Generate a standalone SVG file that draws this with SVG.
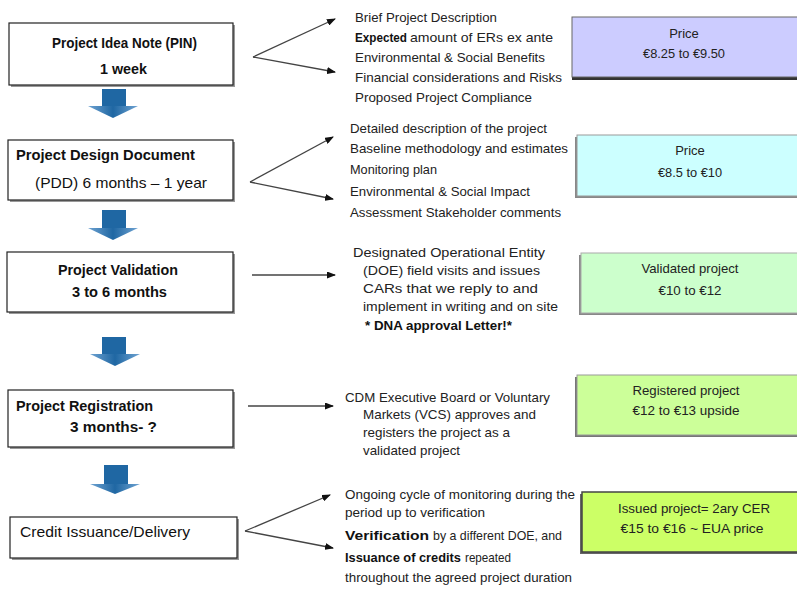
<svg xmlns="http://www.w3.org/2000/svg" width="797" height="590" viewBox="0 0 797 590">
<style>
text{font-family:"Liberation Sans",Arial,sans-serif;fill:#111}
.bt{font-size:15px;font-weight:bold}
.bn{font-size:15px}
.rt{font-size:13px;fill:#222}
.rb{font-size:13px;font-weight:bold;fill:#111}
.pt{font-size:13px;fill:#222;text-anchor:middle}
.box{fill:#fff;stroke:#222;stroke-width:1.2}
.sh{fill:#999}
.blue{fill:#1F67A3}
.con{fill:none;stroke:#444;stroke-width:1.3}
</style>
<defs>
<marker id="ah" markerWidth="9" markerHeight="7" refX="8" refY="3.5" orient="auto" markerUnits="userSpaceOnUse">
<path d="M0,0 L9,3.5 L0,7 Z" fill="#111"/>
</marker>
<linearGradient id="hg" x1="0" y1="0" x2="1" y2="0">
<stop offset="0" stop-color="#6FA3D2"/>
<stop offset="0.5" stop-color="#1F67A3"/>
<stop offset="1" stop-color="#6FA3D2"/>
</linearGradient>
</defs>

<!-- left nodes -->
<g id="pin">
<rect class="sh" x="11" y="25" width="224" height="62"/>
<rect class="box" x="9" y="23" width="224" height="62"/>
<text class="bt" x="52" y="48" textLength="145" lengthAdjust="spacingAndGlyphs">Project Idea Note (PIN)</text>
<text class="bt" x="100" y="74" textLength="47" lengthAdjust="spacingAndGlyphs">1 week</text>
</g>
<g id="pdd">
<rect class="sh" x="10" y="142" width="225" height="60"/>
<rect class="box" x="8" y="140" width="225" height="60"/>
<text class="bt" x="16" y="160" textLength="179" lengthAdjust="spacingAndGlyphs">Project Design Document</text>
<text class="bn" x="35" y="188" textLength="172" lengthAdjust="spacingAndGlyphs">(PDD) 6 months – 1 year</text>
</g>
<g id="validation">
<rect class="sh" x="9" y="254" width="226" height="60"/>
<rect class="box" x="7" y="252" width="226" height="60"/>
<text class="bt" x="58" y="275" textLength="120" lengthAdjust="spacingAndGlyphs">Project Validation</text>
<text class="bt" x="72" y="297" textLength="95" lengthAdjust="spacingAndGlyphs">3 to 6 months</text>
</g>
<g id="registration">
<rect class="sh" x="10" y="392" width="225" height="57"/>
<rect class="box" x="8" y="390" width="225" height="57"/>
<text class="bt" x="16" y="411" textLength="137" lengthAdjust="spacingAndGlyphs">Project Registration</text>
<text class="bt" x="70" y="432" textLength="87" lengthAdjust="spacingAndGlyphs">3 months- ?</text>
</g>
<g id="credit">
<rect class="sh" x="12" y="519" width="227" height="41"/>
<rect class="box" x="10" y="517" width="227" height="41"/>
<text class="bn" x="20" y="537" textLength="170" lengthAdjust="spacingAndGlyphs">Credit Issuance/Delivery</text>
</g>

<!-- blue flow arrows -->
<g id="flow">
<path class="blue" d="M102,89 H126 V106 H102 Z"/>
<path d="M88,106 H138 L113,118 Z" fill="url(#hg)"/>
<path class="blue" d="M102,210 H126 V228 H102 Z"/>
<path d="M88,228 H138 L113,240 Z" fill="url(#hg)"/>
<path class="blue" d="M102,337 H126 V354 H102 Z"/>
<path d="M90,354 H140 L115,366 Z" fill="url(#hg)"/>
<path class="blue" d="M104,465 H128 V484 H104 Z"/>
<path d="M90,484 H140 L115,494 Z" fill="url(#hg)"/>
</g>

<!-- connectors -->
<g id="connectors">
<path class="con" d="M253,57 L335,19" marker-end="url(#ah)"/>
<path class="con" d="M253,57 L335,72" marker-end="url(#ah)"/>
<path class="con" d="M250,182 L333,137" marker-end="url(#ah)"/>
<path class="con" d="M250,182 L333,199" marker-end="url(#ah)"/>
<path class="con" d="M252,275 L335,275" marker-end="url(#ah)"/>
<path class="con" d="M248,406 L333,406" marker-end="url(#ah)"/>
<path class="con" d="M245,531 L330,495" marker-end="url(#ah)"/>
<path class="con" d="M245,531 L333,548" marker-end="url(#ah)"/>
</g>

<!-- description texts -->
<g id="pin-details">
<text class="rt" x="355" y="22" textLength="142" lengthAdjust="spacingAndGlyphs">Brief Project Description</text>
<text class="rb" x="355" y="42" textLength="52" lengthAdjust="spacingAndGlyphs">Expected</text>
<text class="rt" x="410" y="42" textLength="143" lengthAdjust="spacingAndGlyphs">amount of ERs ex ante</text>
<text class="rt" x="355" y="62" textLength="190" lengthAdjust="spacingAndGlyphs">Environmental &amp; Social Benefits</text>
<text class="rt" x="355" y="82" textLength="207" lengthAdjust="spacingAndGlyphs">Financial considerations and Risks</text>
<text class="rt" x="355" y="102" textLength="177" lengthAdjust="spacingAndGlyphs">Proposed Project Compliance</text>
</g>
<g id="pdd-details">
<text class="rt" x="350" y="133" textLength="197" lengthAdjust="spacingAndGlyphs">Detailed description of the project</text>
<text class="rt" x="350" y="153" textLength="218" lengthAdjust="spacingAndGlyphs">Baseline methodology and estimates</text>
<text class="rt" x="350" y="174" textLength="87" lengthAdjust="spacingAndGlyphs">Monitoring plan</text>
<text class="rt" x="350" y="196" textLength="180" lengthAdjust="spacingAndGlyphs">Environmental &amp; Social Impact</text>
<text class="rt" x="350" y="217" textLength="211" lengthAdjust="spacingAndGlyphs">Assessment Stakeholder comments</text>
</g>
<g id="validation-details">
<text class="rt" x="353" y="257" textLength="192" lengthAdjust="spacingAndGlyphs">Designated Operational Entity</text>
<text class="rt" x="363" y="275" textLength="177" lengthAdjust="spacingAndGlyphs">(DOE) field visits and issues</text>
<text class="rt" x="363" y="293" textLength="175" lengthAdjust="spacingAndGlyphs">CARs that we reply to and</text>
<text class="rt" x="363" y="311" textLength="195" lengthAdjust="spacingAndGlyphs">implement in writing and on site</text>
<text class="rb" x="365" y="330" textLength="147" lengthAdjust="spacingAndGlyphs">* DNA approval Letter!*</text>
</g>
<g id="registration-details">
<text class="rt" x="345" y="402" textLength="205" lengthAdjust="spacingAndGlyphs">CDM Executive Board or Voluntary</text>
<text class="rt" x="363" y="419" textLength="173" lengthAdjust="spacingAndGlyphs">Markets (VCS) approves and</text>
<text class="rt" x="363" y="437" textLength="147" lengthAdjust="spacingAndGlyphs">registers the project as a</text>
<text class="rt" x="363" y="455" textLength="97" lengthAdjust="spacingAndGlyphs">validated project</text>
</g>
<g id="credit-details">
<text class="rt" x="345" y="499" textLength="230" lengthAdjust="spacingAndGlyphs">Ongoing cycle of monitoring during the</text>
<text class="rt" x="345" y="517" textLength="140" lengthAdjust="spacingAndGlyphs">period up to verification</text>
<text class="rb" x="345" y="540" textLength="84" lengthAdjust="spacingAndGlyphs">Verification</text>
<text class="rt" x="433" y="540" textLength="129" lengthAdjust="spacingAndGlyphs">by a different DOE, and</text>
<text class="rb" x="345" y="562" textLength="116" lengthAdjust="spacingAndGlyphs">Issuance of credits</text>
<text class="rt" x="465" y="562" textLength="46" lengthAdjust="spacingAndGlyphs">repeated</text>
<text class="rt" x="345" y="582" textLength="227" lengthAdjust="spacingAndGlyphs">throughout the agreed project duration</text>
</g>

<!-- price nodes -->
<g id="price-pin">
<rect x="572" y="17" width="240" height="63" fill="#333"/>
<rect x="572" y="17" width="240" height="60" fill="#CCCCFF" stroke="#666" stroke-width="1"/>
<text class="pt" x="684" y="38">Price</text>
<text class="pt" x="684" y="58" textLength="82" lengthAdjust="spacingAndGlyphs">€8.25 to €9.50</text>
</g>
<g id="price-pdd">
<rect x="575" y="137" width="240" height="61" fill="#888"/>
<rect x="577" y="135" width="240" height="61" fill="#CCFFFF" stroke="#999" stroke-width="1"/>
<text class="pt" x="690" y="155">Price</text>
<text class="pt" x="690" y="177" textLength="64" lengthAdjust="spacingAndGlyphs">€8.5 to €10</text>
</g>
<g id="price-validation">
<rect x="579" y="255" width="240" height="60" fill="#888"/>
<rect x="581" y="253" width="240" height="60" fill="#CCFFCC" stroke="#aaa" stroke-width="1"/>
<text class="pt" x="690" y="273" textLength="97" lengthAdjust="spacingAndGlyphs">Validated project</text>
<text class="pt" x="690" y="295" textLength="63" lengthAdjust="spacingAndGlyphs">€10 to €12</text>
</g>
<g id="price-registration">
<rect x="575" y="377" width="240" height="60" fill="#777"/>
<rect x="577" y="375" width="240" height="60" fill="#CCFF99" stroke="#999" stroke-width="1"/>
<text class="pt" x="686" y="395" textLength="107" lengthAdjust="spacingAndGlyphs">Registered project</text>
<text class="pt" x="686" y="415" textLength="107" lengthAdjust="spacingAndGlyphs">€12 to €13 upside</text>
</g>
<g id="price-credit">
<rect x="580" y="494" width="240" height="60" fill="#666"/>
<rect x="582" y="492" width="240" height="60" fill="#CCFF66" stroke="#444" stroke-width="1.5"/>
<text class="pt" x="694" y="513" textLength="152" lengthAdjust="spacingAndGlyphs">Issued project= 2ary CER</text>
<text class="pt" x="692" y="533" textLength="143" lengthAdjust="spacingAndGlyphs">€15 to €16 ~ EUA price</text>
</g>
</svg>
